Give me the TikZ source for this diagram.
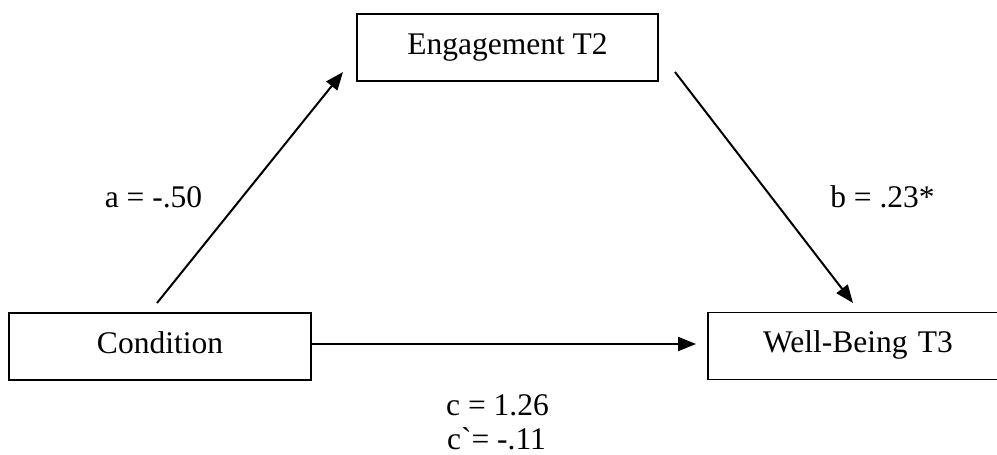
\documentclass[tikz,border=0pt]{standalone}
\usepackage{fontspec}
\setmainfont{Liberation Serif}[Ligatures=TeXOff]
\usetikzlibrary{arrows.meta}
\begin{document}
\begin{tikzpicture}[x=1pt,y=-1pt,
  box/.style={draw,line width=1.9pt,inner sep=0pt,minimum width=#1,minimum height=67pt,
    font=\fontsize{31.5}{36}\selectfont,text height=14pt,text depth=1pt},
  lbl/.style={font=\fontsize{31.5}{36}\selectfont,anchor=base,inner sep=0pt},
  conn/.style={line width=2pt,-{Triangle[length=18pt,width=14pt]}}]
\useasboundingbox (0,0) rectangle (997,455);
\clip (0,0) rectangle (997,455);
\node[box=301pt] (eng) at (507.5,47.5) {Engagement T2};
\node[box=302pt] (cond) at (160,346.5) {Condition};
\node[box=300pt,text width=0pt] (wb) at (858,346) {\hbox to 0pt{\hss Well-Being T3\hss}};
\coordinate (as) at (157,303);
\coordinate (ae) at (343,72);
\coordinate (bs) at (675,72);
\coordinate (be) at (853,303);
\draw[conn] (as) -- (ae);
\draw[conn] (bs) -- (be);
\draw[conn] (cond.east |- 0,344) -- ([xshift=-11pt]wb.west |- 0,344);
\node[lbl] (la) at (153.5,207) {a = -.50};
\node[lbl] (lb) at (882.5,207) {b = .23*};
\node[lbl] (lc) at (497.5,415) {c = 1.26};
\node[lbl] (lcp) at (496.5,449) {c`= -.11};
\end{tikzpicture}
\end{document}
